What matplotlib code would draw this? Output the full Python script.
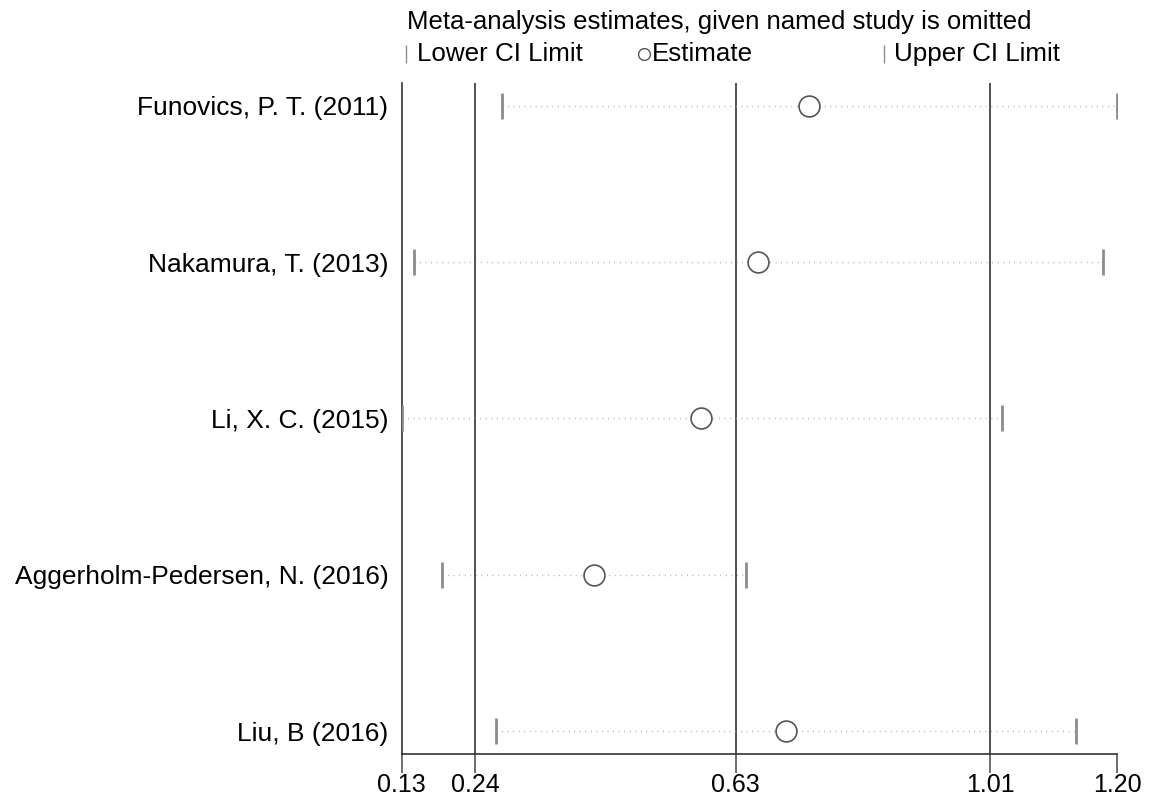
import matplotlib
matplotlib.use('Agg')
import matplotlib.pyplot as plt
from matplotlib.lines import Line2D

plt.rcParams['font.family'] = ['Liberation Sans', 'DejaVu Sans']

studies = ['Funovics, P. T. (2011)', 'Nakamura, T. (2013)', 'Li, X. C. (2015)',
           'Aggerholm-Pedersen, N. (2016)', 'Liu, B (2016)']
estimate = [0.740, 0.663, 0.578, 0.418, 0.705]
lower_ci = [0.281, 0.148, 0.130, 0.191, 0.272]
upper_ci = [1.200, 1.179, 1.028, 0.645, 1.138]

# combined estimate and CI limits, plus overall range
xticks = [0.13, 0.24, 0.63, 1.01, 1.20]
ref_lines = [0.24, 0.63, 1.01]

fig = plt.figure(figsize=(11.65, 7.97), dpi=100)
ax = fig.add_axes([401.5 / 1165, 1 - 754 / 797, (1117 - 401.5) / 1165, (754 - 83) / 797])

ypos = list(range(1, len(studies) + 1))

for x in ref_lines:
    ax.axvline(x, color='#333333', lw=1.2, zorder=1)

for y, lo, est, hi in zip(ypos, lower_ci, estimate, upper_ci):
    ax.plot([lo, hi], [y, y], linestyle=(0, (0.6, 3.4)), color='#a0a0a0', lw=1.0, zorder=2)
    ax.plot([lo, hi], [y, y], linestyle='none', marker='|', markersize=19,
            markeredgewidth=2, color='#8c8c8c', zorder=3)
    ax.plot(est, y, marker='o', markersize=15, markerfacecolor='white',
            markeredgecolor='#555555', markeredgewidth=1.2, linestyle='none', zorder=4)

ax.set_xlim(0.13, 1.20)
ax.set_ylim(5.147, 0.853)
ax.set_xticks(xticks)
ax.set_xticklabels(['%.2f' % t for t in xticks])
ax.set_yticks(ypos)
ax.set_yticklabels(studies)
ax.tick_params(axis='y', length=0, pad=9.5, labelsize=19)
ax.tick_params(axis='x', length=14, width=1.2, color='#555555', pad=0, labelsize=18)
for side in ['top', 'right']:
    ax.spines[side].set_visible(False)
for side in ['left', 'bottom']:
    ax.spines[side].set_color('#333333')
    ax.spines[side].set_linewidth(1.2)

# legend block above the plot
fig.text(407 / 1165, 1 - 22 / 797, 'Meta-analysis estimates, given named study is omitted',
         fontsize=18.5, va='center', ha='left')
ly = 1 - 54 / 797
fig.add_artist(Line2D([406 / 1165], [ly], marker='|', markersize=13, markeredgewidth=1,
                      color='#8c8c8c', transform=fig.transFigure))
fig.text(417 / 1165, ly, 'Lower CI Limit', fontsize=18.7, va='center', ha='left')
fig.add_artist(Line2D([644 / 1165], [ly], marker='o', markersize=8.5, markerfacecolor='white',
                      markeredgecolor='#555555', markeredgewidth=1, transform=fig.transFigure))
fig.text(652 / 1165, ly, 'Estimate', fontsize=18.7, va='center', ha='left')
fig.add_artist(Line2D([884 / 1165], [ly], marker='|', markersize=13, markeredgewidth=1,
                      color='#8c8c8c', transform=fig.transFigure))
fig.text(894 / 1165, ly, 'Upper CI Limit', fontsize=18.7, va='center', ha='left')

fig.savefig('out.png', dpi=100)
